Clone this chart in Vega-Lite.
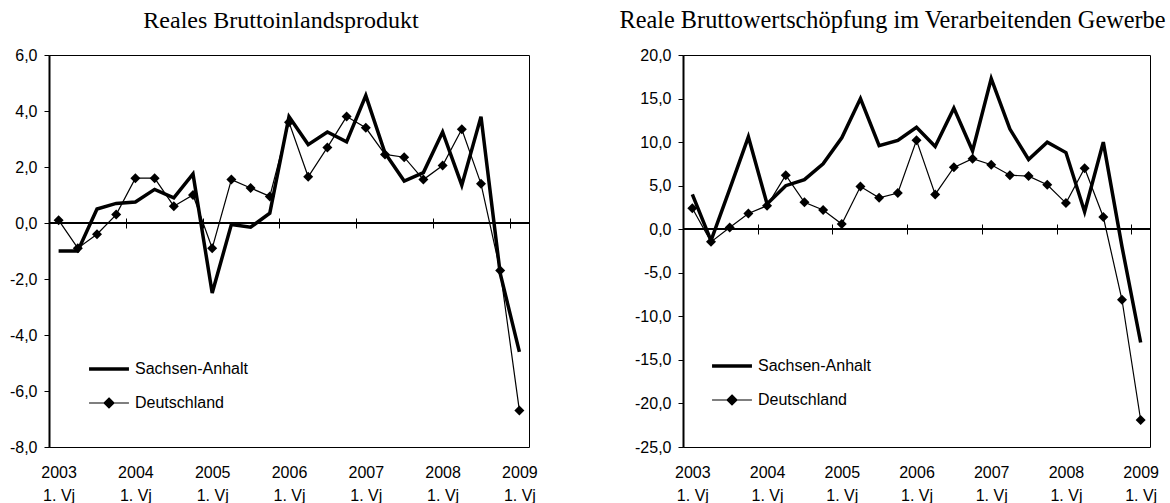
{
  "$schema": "https://vega.github.io/schema/vega-lite/v6.json",
  "background": "white",
  "padding": {"left": 8, "top": 8, "right": 0, "bottom": 0},
  "bounds": "flush",
  "spacing": 154,
  "config": {
    "view": {"stroke": "black", "strokeWidth": 1},
    "title": {"font": "Liberation Serif", "fontSize": 24, "fontWeight": "normal", "color": "black", "anchor": "middle", "baseline": "alphabetic", "offset": 14},
    "axis": {"labelFont": "Liberation Sans", "labelFontSize": 16, "labelColor": "black", "tickColor": "black", "domainColor": "black", "grid": false, "title": null},
    "legend": {"labelFont": "Liberation Sans", "labelFontSize": 16, "labelColor": "black"}
  },
  "datasets": {
    "bip": [
      {"q": "2003 Q1", "s": "Sachsen-Anhalt", "v": -1.0}, {"q": "2003 Q2", "s": "Sachsen-Anhalt", "v": -1.0},
      {"q": "2003 Q3", "s": "Sachsen-Anhalt", "v": 0.5}, {"q": "2003 Q4", "s": "Sachsen-Anhalt", "v": 0.7},
      {"q": "2004 Q1", "s": "Sachsen-Anhalt", "v": 0.75}, {"q": "2004 Q2", "s": "Sachsen-Anhalt", "v": 1.2},
      {"q": "2004 Q3", "s": "Sachsen-Anhalt", "v": 0.9}, {"q": "2004 Q4", "s": "Sachsen-Anhalt", "v": 1.75},
      {"q": "2005 Q1", "s": "Sachsen-Anhalt", "v": -2.5}, {"q": "2005 Q2", "s": "Sachsen-Anhalt", "v": -0.05},
      {"q": "2005 Q3", "s": "Sachsen-Anhalt", "v": -0.15}, {"q": "2005 Q4", "s": "Sachsen-Anhalt", "v": 0.35},
      {"q": "2006 Q1", "s": "Sachsen-Anhalt", "v": 3.8}, {"q": "2006 Q2", "s": "Sachsen-Anhalt", "v": 2.8},
      {"q": "2006 Q3", "s": "Sachsen-Anhalt", "v": 3.25}, {"q": "2006 Q4", "s": "Sachsen-Anhalt", "v": 2.9},
      {"q": "2007 Q1", "s": "Sachsen-Anhalt", "v": 4.55}, {"q": "2007 Q2", "s": "Sachsen-Anhalt", "v": 2.5},
      {"q": "2007 Q3", "s": "Sachsen-Anhalt", "v": 1.5}, {"q": "2007 Q4", "s": "Sachsen-Anhalt", "v": 1.8},
      {"q": "2008 Q1", "s": "Sachsen-Anhalt", "v": 3.25}, {"q": "2008 Q2", "s": "Sachsen-Anhalt", "v": 1.35},
      {"q": "2008 Q3", "s": "Sachsen-Anhalt", "v": 3.8}, {"q": "2008 Q4", "s": "Sachsen-Anhalt", "v": -1.8},
      {"q": "2009 Q1", "s": "Sachsen-Anhalt", "v": -4.6},
      {"q": "2003 Q1", "s": "Deutschland", "v": 0.1}, {"q": "2003 Q2", "s": "Deutschland", "v": -0.9},
      {"q": "2003 Q3", "s": "Deutschland", "v": -0.4}, {"q": "2003 Q4", "s": "Deutschland", "v": 0.3},
      {"q": "2004 Q1", "s": "Deutschland", "v": 1.6}, {"q": "2004 Q2", "s": "Deutschland", "v": 1.6},
      {"q": "2004 Q3", "s": "Deutschland", "v": 0.6}, {"q": "2004 Q4", "s": "Deutschland", "v": 1.0},
      {"q": "2005 Q1", "s": "Deutschland", "v": -0.9}, {"q": "2005 Q2", "s": "Deutschland", "v": 1.55},
      {"q": "2005 Q3", "s": "Deutschland", "v": 1.25}, {"q": "2005 Q4", "s": "Deutschland", "v": 0.95},
      {"q": "2006 Q1", "s": "Deutschland", "v": 3.6}, {"q": "2006 Q2", "s": "Deutschland", "v": 1.65},
      {"q": "2006 Q3", "s": "Deutschland", "v": 2.7}, {"q": "2006 Q4", "s": "Deutschland", "v": 3.8},
      {"q": "2007 Q1", "s": "Deutschland", "v": 3.4}, {"q": "2007 Q2", "s": "Deutschland", "v": 2.45},
      {"q": "2007 Q3", "s": "Deutschland", "v": 2.35}, {"q": "2007 Q4", "s": "Deutschland", "v": 1.55},
      {"q": "2008 Q1", "s": "Deutschland", "v": 2.05}, {"q": "2008 Q2", "s": "Deutschland", "v": 3.35},
      {"q": "2008 Q3", "s": "Deutschland", "v": 1.4}, {"q": "2008 Q4", "s": "Deutschland", "v": -1.7},
      {"q": "2009 Q1", "s": "Deutschland", "v": -6.7}
    ],
    "bwg": [
      {"q": "2003 Q1", "s": "Sachsen-Anhalt", "v": 4.0}, {"q": "2003 Q2", "s": "Sachsen-Anhalt", "v": -1.3},
      {"q": "2003 Q3", "s": "Sachsen-Anhalt", "v": 4.6}, {"q": "2003 Q4", "s": "Sachsen-Anhalt", "v": 10.6},
      {"q": "2004 Q1", "s": "Sachsen-Anhalt", "v": 2.9}, {"q": "2004 Q2", "s": "Sachsen-Anhalt", "v": 5.0},
      {"q": "2004 Q3", "s": "Sachsen-Anhalt", "v": 5.7}, {"q": "2004 Q4", "s": "Sachsen-Anhalt", "v": 7.5},
      {"q": "2005 Q1", "s": "Sachsen-Anhalt", "v": 10.5}, {"q": "2005 Q2", "s": "Sachsen-Anhalt", "v": 15.0},
      {"q": "2005 Q3", "s": "Sachsen-Anhalt", "v": 9.6}, {"q": "2005 Q4", "s": "Sachsen-Anhalt", "v": 10.2},
      {"q": "2006 Q1", "s": "Sachsen-Anhalt", "v": 11.7}, {"q": "2006 Q2", "s": "Sachsen-Anhalt", "v": 9.5},
      {"q": "2006 Q3", "s": "Sachsen-Anhalt", "v": 13.9}, {"q": "2006 Q4", "s": "Sachsen-Anhalt", "v": 9.0},
      {"q": "2007 Q1", "s": "Sachsen-Anhalt", "v": 17.3}, {"q": "2007 Q2", "s": "Sachsen-Anhalt", "v": 11.5},
      {"q": "2007 Q3", "s": "Sachsen-Anhalt", "v": 8.0}, {"q": "2007 Q4", "s": "Sachsen-Anhalt", "v": 10.0},
      {"q": "2008 Q1", "s": "Sachsen-Anhalt", "v": 8.8}, {"q": "2008 Q2", "s": "Sachsen-Anhalt", "v": 2.0},
      {"q": "2008 Q3", "s": "Sachsen-Anhalt", "v": 10.0}, {"q": "2008 Q4", "s": "Sachsen-Anhalt", "v": -2.0},
      {"q": "2009 Q1", "s": "Sachsen-Anhalt", "v": -13.0},
      {"q": "2003 Q1", "s": "Deutschland", "v": 2.4}, {"q": "2003 Q2", "s": "Deutschland", "v": -1.45},
      {"q": "2003 Q3", "s": "Deutschland", "v": 0.2}, {"q": "2003 Q4", "s": "Deutschland", "v": 1.8},
      {"q": "2004 Q1", "s": "Deutschland", "v": 2.7}, {"q": "2004 Q2", "s": "Deutschland", "v": 6.2},
      {"q": "2004 Q3", "s": "Deutschland", "v": 3.1}, {"q": "2004 Q4", "s": "Deutschland", "v": 2.2},
      {"q": "2005 Q1", "s": "Deutschland", "v": 0.6}, {"q": "2005 Q2", "s": "Deutschland", "v": 4.9},
      {"q": "2005 Q3", "s": "Deutschland", "v": 3.6}, {"q": "2005 Q4", "s": "Deutschland", "v": 4.15},
      {"q": "2006 Q1", "s": "Deutschland", "v": 10.2}, {"q": "2006 Q2", "s": "Deutschland", "v": 4.0},
      {"q": "2006 Q3", "s": "Deutschland", "v": 7.1}, {"q": "2006 Q4", "s": "Deutschland", "v": 8.1},
      {"q": "2007 Q1", "s": "Deutschland", "v": 7.4}, {"q": "2007 Q2", "s": "Deutschland", "v": 6.2},
      {"q": "2007 Q3", "s": "Deutschland", "v": 6.1}, {"q": "2007 Q4", "s": "Deutschland", "v": 5.1},
      {"q": "2008 Q1", "s": "Deutschland", "v": 3.0}, {"q": "2008 Q2", "s": "Deutschland", "v": 7.0},
      {"q": "2008 Q3", "s": "Deutschland", "v": 1.4}, {"q": "2008 Q4", "s": "Deutschland", "v": -8.1},
      {"q": "2009 Q1", "s": "Deutschland", "v": -21.9}
    ]
  },
  "hconcat": [
    {
      "width": 480,
      "height": 392,
      "title": {"text": "Reales Bruttoinlandsprodukt", "dx": -8},
      "data": {"name": "bip"},
      "layer": [
        {
          "mark": {"type": "rule", "color": "black", "strokeWidth": 1},
          "encoding": {"y": {"datum": 0, "type": "quantitative", "scale": {"domain": [-8, 6], "nice": false, "zero": false},
            "axis": {"values": [-8, -6, -4, -2, 0, 2, 4, 6], "labelExpr": "(datum.value < 0 ? '-' : '') + replace(format(abs(datum.value), '.1f'), '.', ',')",
              "tickSize": 5, "labelPadding": 7, "domainWidth": 2, "orient": "left"}}}
        },
        {
          "mark": {"type": "line", "strokeJoin": "miter"},
          "encoding": {
            "x": {"field": "q", "type": "ordinal", "scale": {"type": "point", "padding": 0.5},
              "axis": {"orient": "bottom", "values": ["2003 Q1", "2004 Q1", "2005 Q1", "2006 Q1", "2007 Q1", "2008 Q1", "2009 Q1"],
                "labelExpr": "[slice(datum.value, 0, 4), '1. Vj']", "labelAngle": 0, "labelLineHeight": 23, "labelPadding": 17,
                "ticks": false, "domain": false, "labelOverlap": false, "labelBound": false}},
            "y": {"field": "v", "type": "quantitative"},
            "color": {"field": "s", "type": "nominal", "scale": {"domain": ["Sachsen-Anhalt", "Deutschland"], "range": ["black", "black"]},
              "legend": {"orient": "none", "legendX": 43, "legendY": 297, "title": null, "padding": 0, "symbolSize": 900, "labelOffset": 9, "rowPadding": 10,
                "encode": {"symbols": {"update": {
                  "shape": {"signal": "datum.value === 'Deutschland' ? 'M-1.33,0L1.33,0M0,-0.333L0.333,0L0,0.333L-0.333,0Z' : 'M-1.33,0L1.33,0'"},
                  "strokeWidth": {"signal": "datum.value === 'Deutschland' ? 1.2 : 3.5"},
                  "fill": {"value": "black"}, "stroke": {"value": "black"}, "opacity": {"value": 1}}}}}},
            "strokeWidth": {"field": "s", "type": "nominal", "scale": {"domain": ["Sachsen-Anhalt", "Deutschland"], "range": [3.5, 1.2]}, "legend": null}
          }
        },
        {
          "transform": [{"filter": "datum.s === 'Deutschland'"}],
          "mark": {"type": "point", "shape": "diamond", "filled": true, "size": 100, "color": "black", "opacity": 1},
          "encoding": {
            "x": {"field": "q", "type": "ordinal",
              "axis": {"orient": "top", "offset": -173, "values": ["2003 Q1", "2004 Q1", "2005 Q1", "2006 Q1", "2007 Q1", "2008 Q1", "2009 Q1"],
                "labels": false, "domain": false, "ticks": true, "tickSize": 10, "tickOffset": -9.6, "tickColor": "black"}},
            "y": {"field": "v", "type": "quantitative"}
          }
        }
      ]
    },
    {
      "width": 467,
      "height": 392,
      "title": {"text": "Reale Bruttowertschöpfung im Verarbeitenden Gewerbe", "dx": -24, "fontSize": 24.3},
      "data": {"name": "bwg"},
      "layer": [
        {
          "mark": {"type": "rule", "color": "black", "strokeWidth": 1},
          "encoding": {"y": {"datum": 0, "type": "quantitative", "scale": {"domain": [-25, 20], "nice": false, "zero": false},
            "axis": {"values": [-25, -20, -15, -10, -5, 0, 5, 10, 15, 20], "labelExpr": "(datum.value < 0 ? '-' : '') + replace(format(abs(datum.value), '.1f'), '.', ',')",
              "tickSize": 5, "labelPadding": 7, "domainWidth": 2, "orient": "left"}}}
        },
        {
          "mark": {"type": "line", "strokeJoin": "miter"},
          "encoding": {
            "x": {"field": "q", "type": "ordinal", "scale": {"type": "point", "padding": 0.5},
              "axis": {"orient": "bottom", "values": ["2003 Q1", "2004 Q1", "2005 Q1", "2006 Q1", "2007 Q1", "2008 Q1", "2009 Q1"],
                "labelExpr": "[slice(datum.value, 0, 4), '1. Vj']", "labelAngle": 0, "labelLineHeight": 23, "labelPadding": 17,
                "ticks": false, "domain": false, "labelOverlap": false, "labelBound": false}},
            "y": {"field": "v", "type": "quantitative"},
            "color": {"field": "s", "type": "nominal", "scale": {"domain": ["Sachsen-Anhalt", "Deutschland"], "range": ["black", "black"]},
              "legend": {"orient": "none", "legendX": 32, "legendY": 294, "title": null, "padding": 0, "symbolSize": 900, "labelOffset": 9, "rowPadding": 10,
                "encode": {"symbols": {"update": {
                  "shape": {"signal": "datum.value === 'Deutschland' ? 'M-1.33,0L1.33,0M0,-0.333L0.333,0L0,0.333L-0.333,0Z' : 'M-1.33,0L1.33,0'"},
                  "strokeWidth": {"signal": "datum.value === 'Deutschland' ? 1.2 : 3.5"},
                  "fill": {"value": "black"}, "stroke": {"value": "black"}, "opacity": {"value": 1}}}}}},
            "strokeWidth": {"field": "s", "type": "nominal", "scale": {"domain": ["Sachsen-Anhalt", "Deutschland"], "range": [3.5, 1.2]}, "legend": null}
          }
        },
        {
          "transform": [{"filter": "datum.s === 'Deutschland'"}],
          "mark": {"type": "point", "shape": "diamond", "filled": true, "size": 100, "color": "black", "opacity": 1},
          "encoding": {
            "x": {"field": "q", "type": "ordinal",
              "axis": {"orient": "top", "offset": -179, "values": ["2003 Q1", "2004 Q1", "2005 Q1", "2006 Q1", "2007 Q1", "2008 Q1", "2009 Q1"],
                "labels": false, "domain": false, "ticks": true, "tickSize": 10, "tickOffset": -9.34, "tickColor": "black"}},
            "y": {"field": "v", "type": "quantitative"}
          }
        }
      ]
    }
  ],
  "resolve": {"scale": {"color": "independent", "strokeWidth": "independent"}, "legend": {"color": "independent"}}
}
